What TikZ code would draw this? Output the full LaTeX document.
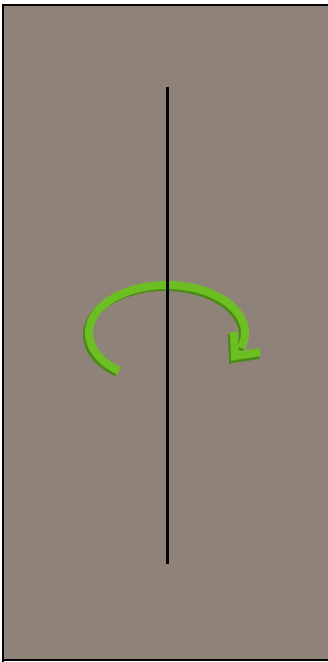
\documentclass[tikz,border=0pt]{standalone}
\usepackage{tikz}
\definecolor{hatter}{HTML}{8E8279}
\definecolor{zold}{HTML}{6CBE22}
\definecolor{sotetzold}{HTML}{4C8A18}
\tikzset{
  nyil/.style={line width=8pt, line cap=butt, line join=miter},
}
\begin{document}
\begin{tikzpicture}[x=1pt,y=-1pt]
				\useasboundingbox (0,0) rectangle (328,662);
				% hatter
				\fill[hatter] (3,5) rectangle (330,660);
				\draw[line width=1.5pt] (3,662) -- (3,5) -- (330,5);
				\draw[line width=1.5pt] (3,660) -- (330,660);
				
				% forgastengely
				\coordinate (fent) at (167,87);
				\coordinate (lent) at (167,564);
				
				% nyil arnyeka
				\draw[nyil,sotetzold] (165,335) ++(128:78 and 48) arc[start angle=128, end angle=378, x radius=78, y radius=48];
				\draw[nyil,sotetzold] (232,334) -- (233,359) -- (259,355);
				
				% nyil
				\draw[nyil,zold] (167,333) ++(128:78 and 48) arc[start angle=128, end angle=378, x radius=78, y radius=48];
				\draw[nyil,zold] (234,332) -- (235,356) -- (260,352);
				
				% tengely
				\draw[line width=3pt] (fent) -- (lent);
				
			\end{tikzpicture}
\end{document}
